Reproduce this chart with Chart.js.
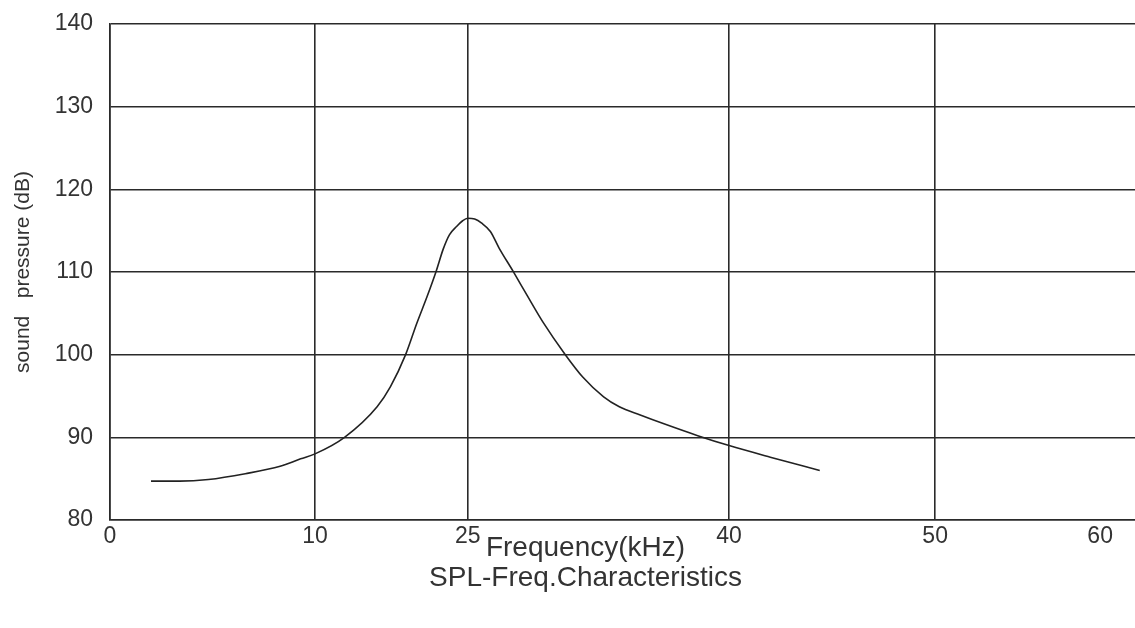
<!DOCTYPE html>
<html>
<head>
<meta charset="utf-8">
<script src="https://cdn.jsdelivr.net/npm/chart.js@4.4.1/dist/chart.umd.min.js"></script>
<style>
    html, body { margin: 0; padding: 0; background: #fff; }
    #wrap { width: 1135px; height: 628px; position: relative; }
</style>
</head>
<body>
<div id="wrap"><canvas id="splChart"></canvas></div>
<script>
// Values
const freqKHz = [2.0, 3.4, 4.8, 6.6, 8.3, 9.3, 10.0, 12.9, 16.1, 17.4, 18.9, 20.0, 21.0, 21.9, 22.6, 23.2, 23.9, 24.5, 25.0, 25.4, 25.8, 26.3, 26.8, 27.6, 28.4, 29.3, 30.6, 31.6, 32.8, 33.7, 34.9, 36.3, 38.2, 40.0, 42.0, 44.4];
const splDB   = [84.7, 84.7, 84.9, 85.6, 86.5, 87.4, 88.0, 90.0, 93.7, 96.1, 100.0, 103.8, 107.0, 110.1, 112.8, 114.5, 115.5, 116.2, 116.5, 116.4, 115.9, 114.9, 112.9, 110.1, 107.2, 104.0, 100.0, 97.3, 94.9, 93.7, 92.7, 91.6, 90.2, 89.0, 87.6, 86.0];
const xTickValues = [0, 10, 25, 40, 50, 60];
const yTickValues = [80, 90, 100, 110, 120, 130, 140];

const TEXT_COLOR = '#333';
const GRID_COLOR = '#2a2a2a';
const FONT = 'Liberation Sans, Arial, sans-serif';

// The original drawing spaces its frequency grid unevenly, so the x scale
// maps kHz onto the chart width piece by piece.
const X_BREAKS = [0, 10, 25, 40, 50, 60, 62];
const X_FRACS  = [0, 0.2, 0.349, 0.604, 0.805, 0.966, 1];

function kHzToFrac(v) {
    for (let i = 1; i < X_BREAKS.length; i++) {
        if (v <= X_BREAKS[i] || i === X_BREAKS.length - 1) {
            const t = (v - X_BREAKS[i - 1]) / (X_BREAKS[i] - X_BREAKS[i - 1]);
            return X_FRACS[i - 1] + t * (X_FRACS[i] - X_FRACS[i - 1]);
        }
    }
    return 0;
}

function fracToKHz(f) {
    for (let i = 1; i < X_FRACS.length; i++) {
        if (f <= X_FRACS[i] || i === X_FRACS.length - 1) {
            const t = (f - X_FRACS[i - 1]) / (X_FRACS[i] - X_FRACS[i - 1]);
            return X_BREAKS[i - 1] + t * (X_BREAKS[i] - X_BREAKS[i - 1]);
        }
    }
    return 0;
}

class PiecewiseScale extends Chart.LinearScale {
    getPixelForValue(value) {
        if (value === null || isNaN(value)) return NaN;
        return this.getPixelForDecimal(kHzToFrac(value));
    }
    getValueForPixel(pixel) {
        return fracToKHz(this.getDecimalForPixel(pixel));
    }
}
PiecewiseScale.id = 'piecewise';
PiecewiseScale.defaults = Chart.LinearScale.defaults;
Chart.register(PiecewiseScale);

const points = freqKHz.map((f, i) => ({ x: f, y: splDB[i] }));

const ctx = document.getElementById('splChart').getContext('2d');
new Chart(ctx, {
    type: 'line',
    data: {
        datasets: [{
            label: 'SPL',
            data: points,
            borderColor: '#222',
            borderWidth: 1.6,
            pointRadius: 0,
            fill: false,
            cubicInterpolationMode: 'monotone'
        }]
    },
    options: {
        responsive: true,
        maintainAspectRatio: false,
        animation: false,
        layout: {
            padding: { left: 36, top: 24, right: 0, bottom: 36 }
        },
        plugins: {
            legend: { display: false },
            tooltip: { enabled: false },
            subtitle: {
                display: true,
                position: 'bottom',
                text: 'Frequency(kHz)',
                color: TEXT_COLOR,
                font: { family: FONT, size: 28, lineHeight: 1.0 },
                padding: { top: -17.5, bottom: 0 }
            },
            title: {
                display: true,
                position: 'bottom',
                text: 'SPL-Freq.Characteristics',
                color: TEXT_COLOR,
                font: { family: FONT, size: 28, weight: 'normal', lineHeight: 1.0 },
                padding: { top: 1.5, bottom: 0 }
            }
        },
        scales: {
            x: {
                type: 'piecewise',
                min: 0,
                max: 62,
                afterBuildTicks: (scale) => {
                    scale.ticks = xTickValues.map(v => ({ value: v }));
                },
                afterFit: (scale) => {
                    scale.height = 32;
                    scale.paddingLeft = 0;
                    scale.paddingRight = 0;
                },
                ticks: {
                    color: TEXT_COLOR,
                    font: { family: FONT, size: 23 },
                    padding: 3,
                    maxRotation: 0,
                    autoSkip: false,
                    callback: (value) => String(value)
                },
                grid: {
                    color: (c) => (c.tick && c.tick.value === 60) ? 'rgba(0,0,0,0)' : GRID_COLOR,
                    lineWidth: 1.6,
                    drawTicks: false
                },
                border: { color: GRID_COLOR, width: 1.6 }
            },
            y: {
                min: 80,
                max: 140,
                afterBuildTicks: (scale) => {
                    scale.ticks = yTickValues.map(v => ({ value: v }));
                },
                afterFit: (scale) => {
                    scale.width = 74;
                    scale.paddingTop = 0;
                    scale.paddingBottom = 0;
                },
                ticks: {
                    color: TEXT_COLOR,
                    font: { family: FONT, size: 23 },
                    padding: 17
                },
                grid: {
                    color: GRID_COLOR,
                    lineWidth: 1.6,
                    drawTicks: false
                },
                border: { color: GRID_COLOR, width: 1.6 },
                title: {
                    display: true,
                    text: 'sound   pressure (dB)',
                    color: TEXT_COLOR,
                    font: { family: FONT, size: 21 },
                    padding: { top: -25, bottom: 0 }
                }
            }
        }
    }
});
</script>
</body>
</html>
